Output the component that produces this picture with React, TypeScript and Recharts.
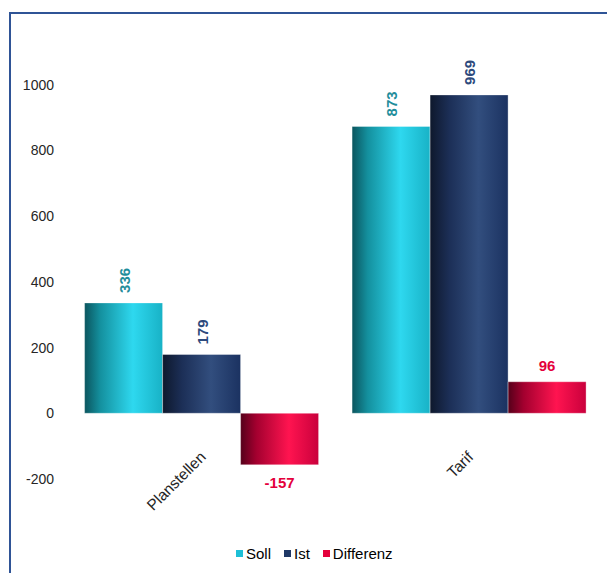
import React from 'react';
import { BarChart, Bar, XAxis, YAxis, Legend, LabelList } from 'recharts';

const categories = ['Planstellen', 'Tarif'];
const soll = [336, 873];
const ist = [179, 969];
const differenz = [-157, 96];
const yTicks = [-200, 0, 200, 400, 600, 800, 1000];

const data = categories.map((c, i) => ({ name: c, Soll: soll[i], Ist: ist[i], Differenz: differenz[i] }));

const FONT = '"Liberation Sans", Arial, sans-serif';

const VerticalLabel = (color: string) => (props: any) => {
  const { x, y, width, height, value } = props;
  const top = Math.min(y, y + height);
  const cx = x + width / 2;
  const bx = cx + 6;
  const by = top - 10;
  return (
    <text x={bx} y={by} transform={`rotate(-90, ${bx}, ${by})`} textAnchor="start" fill={color}
      fontFamily={FONT} fontSize={15} fontWeight="bold">{value}</text>
  );
};

const DiffLabel = (props: any) => {
  const { x, y, width, height, value } = props;
  const top = Math.min(y, y + height);
  const bottom = Math.max(y, y + height);
  const cx = x + width / 2;
  const ty = value >= 0 ? top - 11 : bottom + 23;
  return (
    <text x={cx} y={ty} textAnchor="middle" fill="#e4003b" fontFamily={FONT} fontSize={15} fontWeight="bold">{value}</text>
  );
};

const XTick = (props: any) => {
  const { x, y, payload } = props;
  const ax = x + 5;
  const ay = y - 21;
  return (
    <text x={ax} y={ay} transform={`rotate(-45, ${ax}, ${ay})`} textAnchor="end" fill="#262626"
      fontFamily={FONT} fontSize={15.5}>{payload.value}</text>
  );
};

const legendItems = [
  { label: 'Soll', color: '#1ebfd6' },
  { label: 'Ist', color: '#1f3866' },
  { label: 'Differenz', color: '#e4003b' },
];

const LegendContent = () => (
  <div style={{ height: 30, position: 'relative', fontFamily: FONT, fontSize: 15, color: '#000' }}>
    <div style={{ position: 'absolute', left: 236, top: 2, display: 'flex', alignItems: 'center' }}>
      {legendItems.map((it) => (
        <div key={it.label} style={{ display: 'flex', alignItems: 'center', marginRight: 13 }}>
          <span style={{ display: 'inline-block', width: 7, height: 7, background: it.color, marginRight: 3 }} />
          <span>{it.label}</span>
        </div>
      ))}
    </div>
  </div>
);

export default function App() {
  return (
    <div style={{ position: 'fixed', left: 0, top: 0, width: 607, height: 573, overflow: 'hidden', background: '#fff' }}>
      <div style={{ position: 'absolute', left: 9, top: 12, width: 640, height: 620, border: '2px solid #2f5496', boxSizing: 'border-box' }} />
      <div style={{ position: 'absolute', left: 0, top: 0 }}>
        <BarChart width={607} height={573} data={data} margin={{ top: 19, right: 4, left: 0, bottom: 0 }}
          barCategoryGap="6.2%" barGap={0}>
          <defs>
            <linearGradient id="gSoll" x1="0" y1="0" x2="1" y2="0">
              <stop offset="0" stopColor="#0b555e" />
              <stop offset="0.2" stopColor="#14909e" />
              <stop offset="0.62" stopColor="#2ed8ef" />
              <stop offset="1" stopColor="#18b2c6" />
            </linearGradient>
            <linearGradient id="gIst" x1="0" y1="0" x2="1" y2="0">
              <stop offset="0" stopColor="#0e182c" />
              <stop offset="0.25" stopColor="#1c2f57" />
              <stop offset="0.62" stopColor="#324e7e" />
              <stop offset="1" stopColor="#1b3261" />
            </linearGradient>
            <linearGradient id="gDiff" x1="0" y1="0" x2="1" y2="0">
              <stop offset="0" stopColor="#55001a" />
              <stop offset="0.2" stopColor="#a3002f" />
              <stop offset="0.62" stopColor="#ff1450" />
              <stop offset="1" stopColor="#c9003c" />
            </linearGradient>
          </defs>
          <XAxis dataKey="name" axisLine={false} tickLine={false} tickSize={0} tickMargin={0} height={64}
            tick={<XTick />} interval={0} />
          <YAxis domain={[-200, 1200]} ticks={yTicks} axisLine={false} tickLine={false} tickSize={0}
            tickMargin={14} width={68} tick={{ fill: '#262626', fontSize: 14, fontFamily: FONT }} />
          <Legend verticalAlign="bottom" content={<LegendContent />} />
          <Bar dataKey="Soll" fill="url(#gSoll)" stroke="#ffffff" strokeOpacity={0.35} isAnimationActive={false}>
            <LabelList dataKey="Soll" content={VerticalLabel('#1f8d9b')} />
          </Bar>
          <Bar dataKey="Ist" fill="url(#gIst)" stroke="#ffffff" strokeOpacity={0.35} isAnimationActive={false}>
            <LabelList dataKey="Ist" content={VerticalLabel('#2d4a7c')} />
          </Bar>
          <Bar dataKey="Differenz" fill="url(#gDiff)" stroke="#ffffff" strokeOpacity={0.35} isAnimationActive={false}>
            <LabelList dataKey="Differenz" content={DiffLabel} />
          </Bar>
        </BarChart>
      </div>
    </div>
  );
}
